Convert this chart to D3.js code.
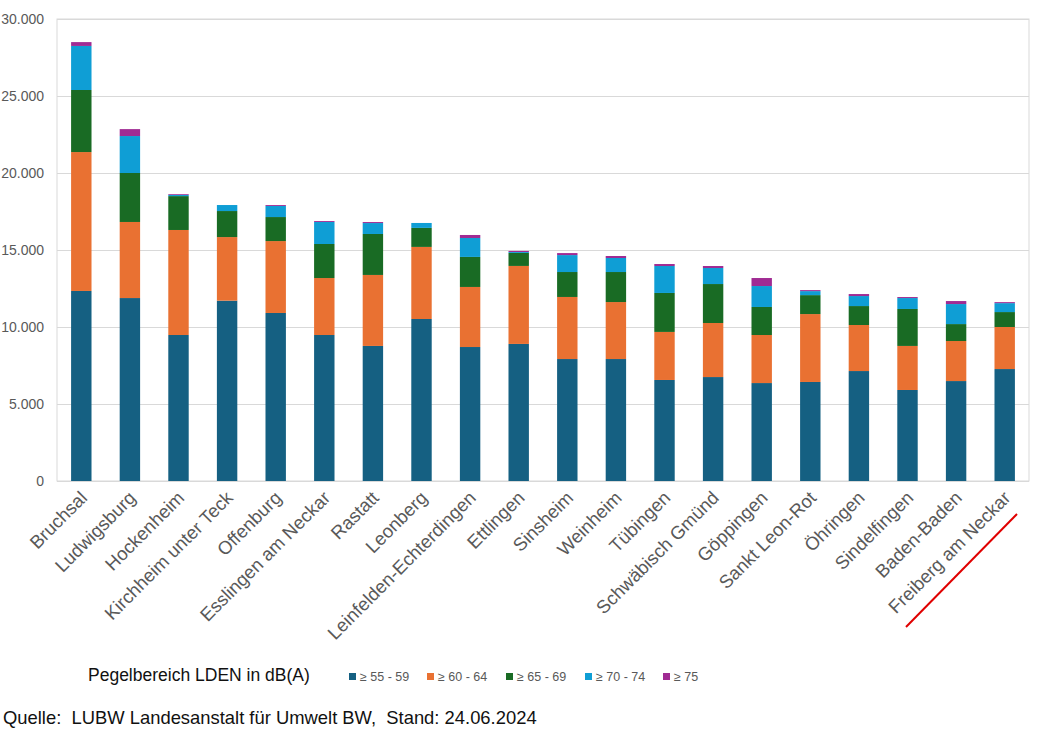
<!DOCTYPE html>
<html>
<head>
<meta charset="utf-8">
<script src="https://cdn.jsdelivr.net/npm/d3@7"></script>
<style>
  body { margin: 0; background: #fff; }
  svg { display: block; font-family: "Liberation Sans", Arial, sans-serif; }
</style>
</head>
<body>
<div id="chart"></div>
<script>
// Städte (x-Achse)
const cities = ['Bruchsal', 'Ludwigsburg', 'Hockenheim', 'Kirchheim unter Teck', 'Offenburg',
  'Esslingen am Neckar', 'Rastatt', 'Leonberg', 'Leinfelden-Echterdingen', 'Ettlingen',
  'Sinsheim', 'Weinheim', 'Tübingen', 'Schwäbisch Gmünd', 'Göppingen', 'Sankt Leon-Rot',
  'Öhringen', 'Sindelfingen', 'Baden-Baden', 'Freiberg am Neckar'];

// Betroffene je Pegelbereich (Werte aus dem Bild geschätzt)
const lvl55 = [12340, 11880, 9480, 11710, 10910, 9480, 8770, 10520, 8700, 8900,
  7920, 7920, 6560, 6750, 6360, 6430, 7140, 5910, 6490, 7270];
const lvl60 = [9020, 4940, 6820, 4130, 4670, 3700, 4610, 4680, 3900, 5065,
  4030, 3700, 3120, 3510, 3120, 4410, 2990, 2860, 2600, 2730];
const lvl65 = [4030, 3180, 2200, 1690, 1560, 2210, 2660, 1235, 1950, 845,
  1620, 1950, 2530, 2530, 1820, 1230, 1230, 2400, 1100, 970];
const lvl70 = [2860, 2400, 80, 390, 720, 1430, 710, 320, 1230, 60,
  1100, 910, 1750, 1040, 1360, 260, 650, 710, 1300, 580];
const lvl75 = [250, 450, 50, 0, 60, 60, 65, 0, 195, 70,
  130, 130, 130, 130, 520, 65, 130, 65, 195, 65];

const seriesNames = ['≥ 55 - 59', '≥ 60 - 64', '≥ 65 - 69', '≥ 70 - 74', '≥ 75'];
const seriesColors = ['#156082', '#e97132', '#196b24', '#0f9ed5', '#a02b93'];
const yTicks = [0, 5000, 10000, 15000, 20000, 25000, 30000];

const width = 1037;
const height = 733;
const plot = { left: 57, right: 1029, top: 19, bottom: 481 };

const table = cities.map((c, i) => ({
  city: c, s0: lvl55[i], s1: lvl60[i], s2: lvl65[i], s3: lvl70[i], s4: lvl75[i]
}));
const keys = ['s0', 's1', 's2', 's3', 's4'];
const stacked = d3.stack().keys(keys)(table);

const de = d3.formatLocale({ decimal: ',', thousands: '.', grouping: [3], currency: ['', '€'] });
const fmt = de.format(',');

const svg = d3.select('#chart').append('svg')
  .attr('width', width)
  .attr('height', height);

const x = d3.scaleBand()
  .domain(cities)
  .range([plot.left, plot.right])
  .paddingInner(0.58)
  .paddingOuter(0.29);

const y = d3.scaleLinear()
  .domain([0, 30000])
  .range([plot.bottom, plot.top]);

// gridlines
svg.append('g')
  .attr('class', 'grid')
  .attr('transform', `translate(${plot.left}, 0)`)
  .call(d3.axisLeft(y).tickValues(yTicks).tickFormat('').tickSize(-(plot.right - plot.left)))
  .call((g) => g.select('.domain').remove())
  .call((g) => g.selectAll('line').attr('stroke', '#d9d9d9'));

// plot border
svg.append('rect')
  .attr('x', plot.left)
  .attr('y', plot.top)
  .attr('width', plot.right - plot.left)
  .attr('height', plot.bottom - plot.top)
  .attr('fill', 'none')
  .attr('stroke', '#d9d9d9');

// bars
svg.append('g')
  .selectAll('g')
  .data(stacked)
  .join('g')
  .attr('fill', (d, i) => seriesColors[i])
  .selectAll('rect')
  .data((d) => d)
  .join('rect')
  .attr('x', (d) => x(d.data.city))
  .attr('width', x.bandwidth())
  .attr('y', (d) => y(d[1]))
  .attr('height', (d) => y(d[0]) - y(d[1]));

// y axis labels
svg.append('g')
  .attr('transform', `translate(${plot.left}, 0)`)
  .call(d3.axisLeft(y).tickValues(yTicks).tickFormat(fmt).tickSize(0).tickPadding(13))
  .call((g) => g.select('.domain').remove())
  .call((g) => g.selectAll('text')
    .attr('fill', '#595959')
    .style('font-size', '14px'));

// x axis labels, rotated
svg.append('g')
  .selectAll('text')
  .data(cities)
  .join('text')
  .attr('transform', (d) => `translate(${x(d) + x.bandwidth() / 2 + 7}, 499) rotate(-45)`)
  .attr('text-anchor', 'end')
  .attr('fill', '#595959')
  .style('font-size', '18.5px')
  .text((d) => d);

// red underline below last label
svg.append('line')
  .attr('x1', 906).attr('y1', 627)
  .attr('x2', 1017).attr('y2', 514)
  .attr('stroke', '#e00000')
  .attr('stroke-width', 2);

// legend
svg.append('text')
  .attr('x', 88)
  .attr('y', 681)
  .style('font-size', '17.5px')
  .attr('fill', '#111')
  .text('Pegelbereich LDEN in dB(A)');

const legendX = [349, 427, 506, 585, 663];
const legend = svg.append('g')
  .selectAll('g')
  .data(seriesNames)
  .join('g')
  .attr('transform', (d, i) => `translate(${legendX[i]}, 677)`);

legend.append('rect')
  .attr('x', 0).attr('y', -4)
  .attr('width', 7).attr('height', 7)
  .attr('fill', (d, i) => seriesColors[i]);

legend.append('text')
  .attr('x', 11)
  .attr('y', 4)
  .attr('fill', '#595959')
  .style('font-size', '12.5px')
  .text((d) => d);

svg.append('text')
  .attr('x', 3)
  .attr('y', 724)
  .style('font-size', '18.4px')
  .attr('fill', '#111')
  .attr('xml:space', 'preserve')
  .style('white-space', 'pre')
  .text('Quelle:  LUBW Landesanstalt für Umwelt BW,  Stand: 24.06.2024');
</script>
</body>
</html>
